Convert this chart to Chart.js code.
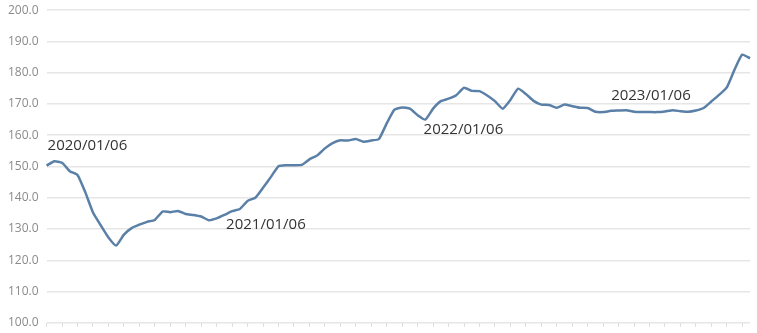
<!DOCTYPE html>
<html>
<head>
<meta charset="utf-8">
<script src="https://cdn.jsdelivr.net/npm/chart.js@4"></script>
<style>
    html, body { margin: 0; padding: 0; background: #fff; overflow: hidden; }
    #wrap { width: 757px; height: 343px; position: relative; top: -5px; }
</style>
</head>
<body>
<div id="wrap"><canvas id="mycanvas"></canvas></div>
<script>
// half-monthly readings (6th and 21st)
var startYear = 2020;
var months = 46;
var values = [
    150.3, 151.7, 151.2, 148.5, 147.3, 141.8, 135.3, 131.2, 127.3, 124.7,
    128.2, 130.3, 131.4, 132.3, 132.9, 135.6, 135.4, 135.8, 134.8, 134.5,
    134.0, 132.8, 133.4, 134.5, 135.7, 136.4, 139.0, 140.0, 143.2, 146.6,
    150.1, 150.4, 150.4, 150.5, 152.3, 153.5, 155.8, 157.5, 158.4, 158.3,
    158.8, 157.9, 158.3, 158.8, 163.8, 168.2, 168.9, 168.5, 166.4, 165.0,
    168.5, 170.9, 171.7, 172.8, 175.2, 174.2, 174.1, 172.7, 170.9, 168.5,
    171.3, 174.9, 173.2, 171.0, 169.8, 169.7, 168.8, 169.8, 169.3, 168.8,
    168.7, 167.5, 167.4, 167.8, 167.9, 168.0, 167.5, 167.4, 167.4, 167.4,
    167.6, 168.0, 167.7, 167.5, 167.9, 168.7, 170.8, 172.9, 175.3, 181.0,
    185.8, 184.6
];
var markDates = ['2020/01/06', '2021/01/06', '2022/01/06', '2023/01/06'];
var yTicks = [100, 110, 120, 130, 140, 150, 160, 170, 180, 190, 200];

var labels = [];
for (var m = 0; m < months; m++) {
    var y = startYear + Math.floor(m / 12);
    var mo = ('0' + (m % 12 + 1)).slice(-2);
    labels.push(y + '/' + mo + '/06');
    labels.push(y + '/' + mo + '/21');
}
labels = labels.slice(0, values.length);

// label placement next to the point: [dx, dy]
var markOffsets = [[1, -20], [-6, 14], [6, 15], [8, -16]];

var dateMarks = {
    id: 'dateMarks',
    afterDatasetsDraw: function (chart) {
        var ctx = chart.ctx;
        var meta = chart.getDatasetMeta(0);
        ctx.save();
        ctx.font = '15px "Open Sans", sans-serif';
        ctx.fillStyle = '#333';
        ctx.textAlign = 'left';
        ctx.textBaseline = 'middle';
        for (var i = 0; i < markDates.length; i++) {
            var idx = labels.indexOf(markDates[i]);
            if (idx < 0) continue;
            var pt = meta.data[idx];
            ctx.fillText(markDates[i], pt.x + markOffsets[i][0], pt.y + markOffsets[i][1]);
        }
        ctx.restore();
    }
};

var chartdata = {
    labels: labels,
    datasets: [
        {
            data: values,
            borderColor: '#5a80a8',
            borderWidth: 2.5,
            pointRadius: 0,
            tension: 0.15,
            fill: false
        }
    ]
};

var lineGraph = new Chart(document.getElementById('mycanvas'), {
    type: 'line',
    data: chartdata,
    plugins: [dateMarks],
    options: {
        responsive: true,
        maintainAspectRatio: false,
        animation: false,
        layout: { padding: { top: 0, right: 7, left: 0, bottom: 0 } },
        plugins: { legend: { display: false }, tooltip: { enabled: false } },
        scales: {
            x: {
                border: { display: false },
                afterFit: function (axis) { axis.height = 10; },
                grid: {
                    drawOnChartArea: false,
                    tickLength: 4,
                    color: function (c) { return c.index % 2 === 0 ? '#dcdcdc' : 'rgba(0,0,0,0)'; }
                },
                ticks: { display: false, autoSkip: false }
            },
            y: {
                min: yTicks[0],
                max: yTicks[yTicks.length - 1],
                border: { display: false },
                grid: { color: '#e6e6e6', lineWidth: 1.5, drawTicks: false },
                afterBuildTicks: function (axis) {
                    axis.ticks = yTicks.map(function (v) { return { value: v }; });
                },
                ticks: {
                    padding: 8,
                    color: '#8a8a8a',
                    font: { size: 12, family: '"Open Sans", sans-serif' },
                    callback: function (v) { return Number(v).toFixed(1); }
                }
            }
        }
    }
});
</script>
</body>
</html>
